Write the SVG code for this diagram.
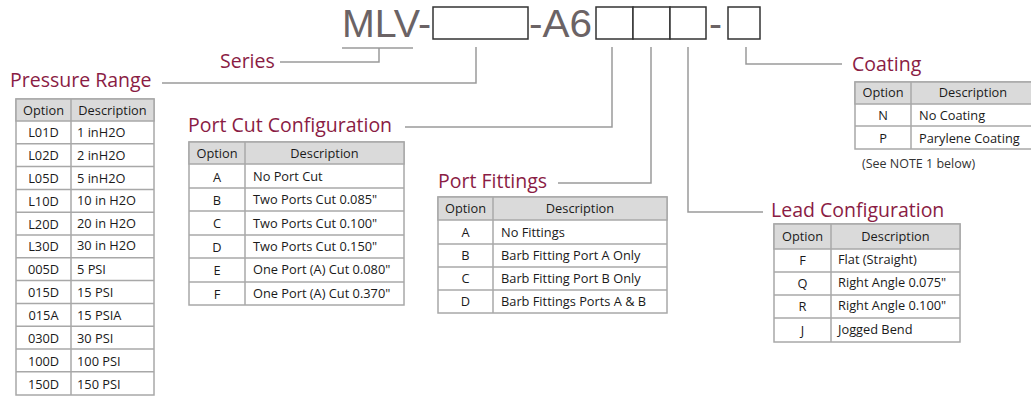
<svg xmlns="http://www.w3.org/2000/svg" width="1031" height="397" viewBox="0 0 1031 397">
<style>
.title{font-family:"Open Sans","Liberation Sans",sans-serif;font-size:19.5px;fill:#8a1c44}
.code{font-family:"Liberation Sans","Open Sans",sans-serif;font-size:38px;fill:#6b6365}
.cbox{fill:#fff;stroke:#333;stroke-width:1.5}
.conn{fill:none;stroke:#9a9a9a;stroke-width:1.5}
.tb{fill:#fff;stroke:#a8a8a8;stroke-width:1.5}
.hd{fill:#dadada;stroke:#a8a8a8;stroke-width:1.5}
.ln{stroke:#a8a8a8;stroke-width:1.5}
.t{font-family:"Open Sans","Liberation Sans",sans-serif;font-size:12.8px;fill:#1a1a1a}
.c{text-anchor:middle}
.note{font-family:"Open Sans","Liberation Sans",sans-serif;font-size:12.5px;fill:#333}
</style>
<rect width="1031" height="397" fill="#fff"/>

<g id="part-number">
<text class="code" x="342" y="37" textLength="89" lengthAdjust="spacingAndGlyphs">MLV-</text>
<rect class="cbox" x="433" y="7" width="95" height="32"/>
<text class="code" x="529" y="37" textLength="63" lengthAdjust="spacingAndGlyphs">-A6</text>
<rect class="cbox" x="596" y="7" width="37" height="32"/>
<rect class="cbox" x="633" y="7" width="37" height="32"/>
<rect class="cbox" x="670" y="7" width="36" height="32"/>
<text class="code" x="709" y="37" textLength="13" lengthAdjust="spacingAndGlyphs">-</text>
<rect class="cbox" x="728" y="7" width="32" height="32"/>
</g>

<g id="connectors">
<polyline class="conn" points="342,48 413,48"/>
<polyline class="conn" points="379,48 379,62 280,62"/>
<polyline class="conn" points="476,47 476,83 162,83"/>
<polyline class="conn" points="612,47 612,127 405,127"/>
<polyline class="conn" points="651,47 651,183 558,183"/>
<polyline class="conn" points="688,47 688,212 763,212"/>
<polyline class="conn" points="746,47 746,64 842,64"/>
</g>

<g id="series">
<text class="title" x="220" y="68">Series</text>
</g>

<g id="pressure-range">
<text class="title" x="10" y="87">Pressure Range</text>
<rect class="tb" x="16" y="99" width="138" height="296"/>
<rect class="hd" x="16" y="99" width="138" height="22"/>
<g class="ln">
<line x1="71" y1="99" x2="71" y2="395"/>
<line x1="16" y1="143.8" x2="154" y2="143.8"/>
<line x1="16" y1="166.6" x2="154" y2="166.6"/>
<line x1="16" y1="189.4" x2="154" y2="189.4"/>
<line x1="16" y1="212.2" x2="154" y2="212.2"/>
<line x1="16" y1="235" x2="154" y2="235"/>
<line x1="16" y1="257.8" x2="154" y2="257.8"/>
<line x1="16" y1="280.6" x2="154" y2="280.6"/>
<line x1="16" y1="303.4" x2="154" y2="303.4"/>
<line x1="16" y1="326.2" x2="154" y2="326.2"/>
<line x1="16" y1="349" x2="154" y2="349"/>
<line x1="16" y1="371.8" x2="154" y2="371.8"/>
</g>
<text class="t c" x="43.5" y="114.5">Option</text>
<text class="t c" x="112.5" y="114.5">Description</text>
<text class="t c" x="43.5" y="137">L01D</text><text class="t" x="77" y="137">1 inH2O</text>
<text class="t c" x="43.5" y="160">L02D</text><text class="t" x="77" y="160">2 inH2O</text>
<text class="t c" x="43.5" y="183">L05D</text><text class="t" x="77" y="183">5 inH2O</text>
<text class="t c" x="43.5" y="206">L10D</text><text class="t" x="77" y="205">10 in H2O</text>
<text class="t c" x="43.5" y="229">L20D</text><text class="t" x="77" y="228">20 in H2O</text>
<text class="t c" x="43.5" y="251">L30D</text><text class="t" x="77" y="250">30 in H2O</text>
<text class="t c" x="43.5" y="274">005D</text><text class="t" x="77" y="274">5 PSI</text>
<text class="t c" x="43.5" y="297">015D</text><text class="t" x="77" y="297">15 PSI</text>
<text class="t c" x="43.5" y="320">015A</text><text class="t" x="77" y="320">15 PSIA</text>
<text class="t c" x="43.5" y="343">030D</text><text class="t" x="77" y="343">30 PSI</text>
<text class="t c" x="43.5" y="366">100D</text><text class="t" x="77" y="366">100 PSI</text>
<text class="t c" x="43.5" y="389">150D</text><text class="t" x="77" y="389">150 PSI</text>
</g>

<g id="port-cut-configuration">
<text class="title" x="188" y="132">Port Cut Configuration</text>
<rect class="tb" x="189" y="142" width="215" height="163"/>
<rect class="hd" x="189" y="142" width="215" height="22"/>
<g class="ln">
<line x1="245" y1="142" x2="245" y2="305"/>
<line x1="189" y1="188" x2="404" y2="188"/>
<line x1="189" y1="211" x2="404" y2="211"/>
<line x1="189" y1="235" x2="404" y2="235"/>
<line x1="189" y1="258" x2="404" y2="258"/>
<line x1="189" y1="282" x2="404" y2="282"/>
</g>
<text class="t c" x="217" y="158">Option</text>
<text class="t c" x="324.5" y="158">Description</text>
<text class="t c" x="217" y="182">A</text><text class="t" x="253" y="181">No Port Cut</text>
<text class="t c" x="217" y="205">B</text><text class="t" x="253" y="204">Two Ports Cut 0.085"</text>
<text class="t c" x="217" y="228">C</text><text class="t" x="253" y="228">Two Ports Cut 0.100"</text>
<text class="t c" x="217" y="252">D</text><text class="t" x="253" y="251">Two Ports Cut 0.150"</text>
<text class="t c" x="217" y="275">E</text><text class="t" x="253" y="274">One Port (A) Cut 0.080"</text>
<text class="t c" x="217" y="299">F</text><text class="t" x="253" y="298">One Port (A) Cut 0.370"</text>
</g>

<g id="port-fittings">
<text class="title" x="438" y="188">Port Fittings</text>
<rect class="tb" x="438" y="197" width="229" height="116"/>
<rect class="hd" x="438" y="197" width="229" height="23"/>
<g class="ln">
<line x1="493" y1="197" x2="493" y2="313"/>
<line x1="438" y1="244" x2="667" y2="244"/>
<line x1="438" y1="267" x2="667" y2="267"/>
<line x1="438" y1="290" x2="667" y2="290"/>
</g>
<text class="t c" x="465.5" y="213">Option</text>
<text class="t c" x="580" y="213">Description</text>
<text class="t c" x="465.5" y="237">A</text><text class="t" x="501" y="237">No Fittings</text>
<text class="t c" x="465.5" y="260">B</text><text class="t" x="501" y="260">Barb Fitting Port A Only</text>
<text class="t c" x="465.5" y="283">C</text><text class="t" x="501" y="283">Barb Fitting Port B Only</text>
<text class="t c" x="465.5" y="306">D</text><text class="t" x="501" y="306">Barb Fittings Ports A &amp; B</text>
</g>

<g id="lead-configuration">
<text class="title" x="771" y="217">Lead Configuration</text>
<rect class="tb" x="774" y="224" width="186" height="118"/>
<rect class="hd" x="774" y="224" width="186" height="25"/>
<g class="ln">
<line x1="831" y1="224" x2="831" y2="342"/>
<line x1="774" y1="272" x2="960" y2="272"/>
<line x1="774" y1="295" x2="960" y2="295"/>
<line x1="774" y1="318" x2="960" y2="318"/>
</g>
<text class="t c" x="802.5" y="241">Option</text>
<text class="t c" x="895.5" y="241">Description</text>
<text class="t c" x="802.5" y="265">F</text><text class="t" x="838" y="264">Flat (Straight)</text>
<text class="t c" x="802.5" y="288">Q</text><text class="t" x="838" y="287">Right Angle 0.075"</text>
<text class="t c" x="802.5" y="311">R</text><text class="t" x="838" y="310">Right Angle 0.100"</text>
<text class="t c" x="802.5" y="335">J</text><text class="t" x="838" y="334">Jogged Bend</text>
</g>

<g id="coating">
<text class="title" x="852" y="71">Coating</text>
<rect class="tb" x="855" y="82" width="185" height="67"/>
<rect class="hd" x="855" y="82" width="185" height="22"/>
<g class="ln">
<line x1="911" y1="82" x2="911" y2="149"/>
<line x1="855" y1="126" x2="1040" y2="126"/>
</g>
<text class="t c" x="883" y="97">Option</text>
<text class="t c" x="973" y="97">Description</text>
<text class="t c" x="883" y="120">N</text><text class="t" x="919" y="120">No Coating</text>
<text class="t c" x="883" y="143">P</text><text class="t" x="919" y="143">Parylene Coating</text>
<text class="note" x="862" y="168">(See NOTE 1 below)</text>
</g>
</svg>
